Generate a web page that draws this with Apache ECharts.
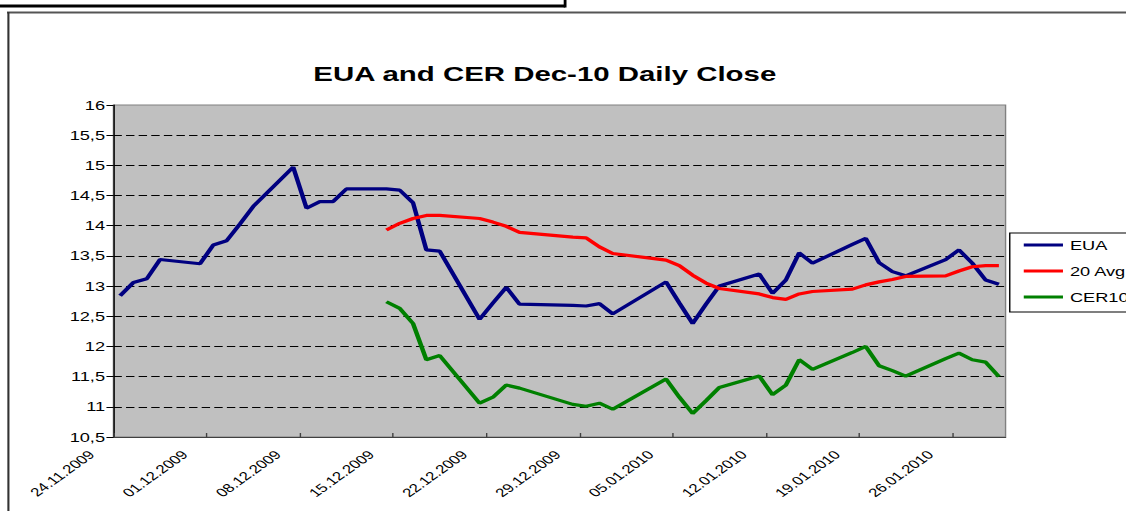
<!DOCTYPE html>
<html>
<head>
<meta charset="utf-8">
<script src="https://cdn.jsdelivr.net/npm/echarts@6/dist/echarts.min.js"></script>
<style>
html, body { margin: 0; padding: 0; background: #fff; overflow: hidden; }
/* the source picture is stretched sideways, so draw narrow and scale */
#main { width: 804px; height: 511px; transform: scaleX(1.4005); transform-origin: 0 0; }
</style>
</head>
<body>
<div id="main"></div>
<script>
var startDay = '24.11.2009';
var dates = [
    '24.11.2009','25.11.2009','26.11.2009','27.11.2009','30.11.2009',
    '01.12.2009','02.12.2009','03.12.2009','04.12.2009','07.12.2009',
    '08.12.2009','09.12.2009','10.12.2009','11.12.2009','14.12.2009',
    '15.12.2009','16.12.2009','17.12.2009','18.12.2009','21.12.2009',
    '22.12.2009','23.12.2009','24.12.2009','28.12.2009','29.12.2009',
    '30.12.2009','31.12.2009','04.01.2010','05.01.2010','06.01.2010',
    '07.01.2010','08.01.2010','11.01.2010','12.01.2010','13.01.2010',
    '14.01.2010','15.01.2010','18.01.2010','19.01.2010','20.01.2010',
    '21.01.2010','22.01.2010','25.01.2010','26.01.2010','27.01.2010',
    '28.01.2010','29.01.2010'
];
var eua = [
    12.84, 13.06, 13.12, 13.44, 13.37,
    13.68, 13.75, 14.03, 14.32, 14.97,
    14.29, 14.40, 14.40, 14.61, 14.61,
    14.59, 14.38, 13.60, 13.58, 12.45,
    12.72, 12.98, 12.70, 12.68, 12.67,
    12.71, 12.54, 13.07, 12.72, 12.38,
    12.70, 13.00, 13.20, 12.88, 13.10,
    13.55, 13.38, 13.69, 13.79, 13.39,
    13.24, 13.17, 13.44, 13.60, 13.38,
    13.10, 13.03
];
var avg20 = [
    null, null, null, null, null,
    null, null, null, null, null,
    null, null, null, null, 13.93,
    14.04, 14.12, 14.17, 14.17, 14.12,
    14.06, 13.99, 13.89, 13.81, 13.80,
    13.65, 13.54, 13.43, 13.34, 13.18,
    13.05, 12.96, 12.87, 12.81, 12.78,
    12.87, 12.91, 12.95, 13.02, 13.07,
    13.11, 13.16, 13.17, 13.25, 13.32,
    13.34, 13.34
];
var cer10 = [
    null, null, null, null, null,
    null, null, null, null, null,
    null, null, null, null, 12.74,
    12.63, 12.38, 11.78, 11.85, 11.06,
    11.16, 11.36, 11.31, 11.04, 11.01,
    11.06, 10.96, 11.46, 11.16, 10.89,
    11.10, 11.32, 11.51, 11.20, 11.36,
    11.78, 11.62, 11.90, 12.00, 11.68,
    11.60, 11.51, 11.80, 11.89, 11.78,
    11.74, 11.50
];
var seriesNames = ['EUA', '20 Avg', 'CER10'];
var seriesColors = ['#000080', '#FF0000', '#008000'];

function toUtc(s) {
    var p = s.split('.');
    return Date.UTC(+p[2], +p[1] - 1, +p[0]);
}
var DAY = 86400000;
var t0 = toUtc(startDay);
// each day is one slot on the axis, the close sits in the middle of it
function slot(s) {
    return (toUtc(s) - t0) / DAY + 0.5;
}
function pad2(n) { return (n < 10 ? '0' : '') + n; }
function dayLabel(v) {
    var d = new Date(t0 + v * DAY);
    return pad2(d.getUTCDate()) + '.' + pad2(d.getUTCMonth() + 1) + '.' + d.getUTCFullYear();
}
function pairs(vals) {
    return dates.map(function (d, i) { return [slot(d), vals[i]]; });
}

var font = 'Liberation Sans, Arial, sans-serif';
var chart = echarts.init(document.getElementById('main'), null, { renderer: 'svg' });
var option = {
    backgroundColor: '#fff',
    animation: false,
    title: {
        text: 'EUA and CER Dec-10 Daily Close',
        left: 389,
        top: 63,
        textAlign: 'center',
        padding: 0,
        textStyle: { fontFamily: font, fontSize: 21, fontWeight: 'bold', color: '#000' }
    },
    legend: {
        orient: 'vertical',
        left: 721,
        top: 233,
        padding: [5, 30, 8, 10],
        itemGap: 12,
        itemWidth: 28,
        itemHeight: 3,
        icon: 'rect',
        borderColor: '#000',
        borderWidth: 1,
        backgroundColor: '#fff',
        textStyle: { fontFamily: font, fontSize: 13, color: '#000', lineHeight: 14 },
        data: seriesNames
    },
    grid: {
        left: 81,
        right: 86,
        top: 105,
        bottom: 74,
        show: true,
        backgroundColor: '#C0C0C0',
        borderColor: '#808080',
        borderWidth: 1
    },
    xAxis: {
        type: 'value',
        min: 0,
        max: 67,
        interval: 7,
        axisLine: { show: true, lineStyle: { color: '#404040', width: 1 } },
        axisTick: { show: true, inside: true, length: 4, lineStyle: { color: '#404040' } },
        splitLine: { show: false },
        axisLabel: {
            rotate: 45,
            margin: 0,
            padding: [0, 22, 0, 0],
            showMaxLabel: false,
            fontFamily: font,
            fontSize: 12,
            color: '#000',
            formatter: dayLabel
        }
    },
    yAxis: {
        type: 'value',
        min: 10.5,
        max: 16,
        interval: 0.5,
        axisLine: { show: true, lineStyle: { color: '#000', width: 1 } },
        axisTick: { show: true, length: 5, lineStyle: { color: '#000' } },
        axisLabel: {
            margin: 6,
            fontFamily: font,
            fontSize: 13,
            color: '#000',
            formatter: function (v) { return String(v).replace('.', ','); }
        },
        splitLine: {
            show: true,
            showMinLine: false,
            showMaxLine: false,
            lineStyle: { color: '#000', width: 1, type: [6, 3] }
        }
    },
    series: [eua, avg20, cer10].map(function (vals, i) {
        return {
            name: seriesNames[i],
            type: 'line',
            data: pairs(vals),
            showSymbol: false,
            symbol: 'none',
            color: seriesColors[i],
            lineStyle: { color: seriesColors[i], width: 3.2 }
        };
    }),
    graphic: [
        // bits of the surrounding sheet that show at the top and left
        { type: 'line', shape: { x1: 0, y1: 6, x2: 403.5, y2: 6 }, style: { stroke: '#000', lineWidth: 3 } },
        { type: 'line', shape: { x1: 403.5, y1: 0, x2: 403.5, y2: 7.5 }, style: { stroke: '#000', lineWidth: 2 } },
        { type: 'line', shape: { x1: 5, y1: 12.5, x2: 804, y2: 12.5 }, style: { stroke: '#555', lineWidth: 2 } },
        { type: 'line', shape: { x1: 6, y1: 12, x2: 6, y2: 511 }, style: { stroke: '#333', lineWidth: 1.5 } }
    ]
};
chart.setOption(option);
</script>
</body>
</html>
